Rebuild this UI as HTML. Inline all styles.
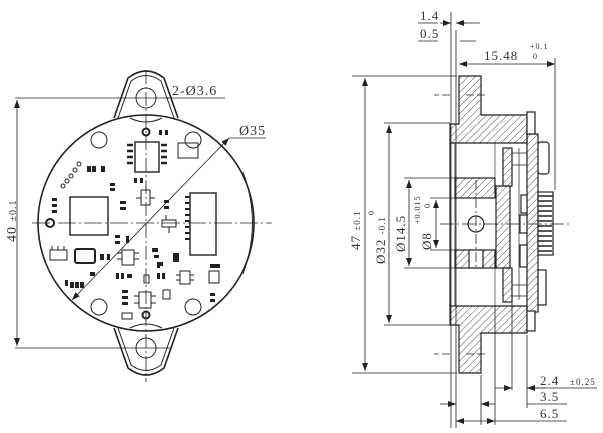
<!DOCTYPE html>
<html><head><meta charset="utf-8"><style>
html,body{margin:0;padding:0;background:#fff;width:603px;height:433px;overflow:hidden}
svg{display:block}
text{font-family:"Liberation Serif","DejaVu Serif",serif;fill:#333;letter-spacing:1px}
</style></head><body>
<svg width="603" height="433" viewBox="0 0 603 433" xmlns="http://www.w3.org/2000/svg">
<defs>
<pattern id="h" width="5" height="5" patternUnits="userSpaceOnUse" patternTransform="rotate(45)">
<line x1="0" y1="0" x2="0" y2="5" stroke="#222" stroke-width="0.8"/>
</pattern>
<marker id="a" markerWidth="8" markerHeight="6" refX="8" refY="3" orient="auto" markerUnits="userSpaceOnUse"><path d="M0,0 L8,3 L0,6 z" fill="#222"/></marker>
<marker id="b" markerWidth="8" markerHeight="6" refX="0" refY="3" orient="auto" markerUnits="userSpaceOnUse"><path d="M8,0 L0,3 L8,6 z" fill="#222"/></marker>
</defs>
<g stroke="#222" fill="none" stroke-width="1">
<path d="M114,118 L128,78 Q146,64 164,78 L178,118" stroke-width="1.6"/>
<path d="M118,118 L131,81 Q146,70 161,81 L174,118"/>
<path d="M114,328 L128,368 Q146,382 164,368 L178,328" stroke-width="1.6"/>
<path d="M118,328 L131,365 Q146,376 161,365 L174,328"/>
<circle cx="146" cy="98" r="10"/>
<circle cx="146" cy="348" r="10"/>
<circle cx="146" cy="223" r="108" stroke-width="1.6" fill="#fff"/>
<path d="M130,118 Q146,126 162,118 M130,328 Q146,320 162,328"/>
<path d="M243,172 Q262,223 243,274"/>
<circle cx="99" cy="140" r="8"/><circle cx="193" cy="140" r="8"/>
<circle cx="99" cy="307" r="8"/><circle cx="193" cy="307" r="8"/>
<circle cx="146" cy="132" r="3.5" stroke-width="2"/><circle cx="146" cy="315" r="3.5" stroke-width="2"/>
<circle cx="50" cy="223" r="4" stroke-width="2"/>
<rect x="135" y="142" width="24" height="30" stroke-width="1.4"/>
<g stroke-width="2.5"><path d="M127,145h6M127,151h6M127,157h6M127,163h6M161,145h6M161,151h6M161,157h6M161,163h6"/></g>
<rect x="70" y="197" width="38" height="38" stroke-width="1.4"/>
<rect x="178" y="143" width="20" height="15"/>
<rect x="190" y="193" width="26" height="62" stroke-width="1.4"/>
<g stroke-width="2"><path d="M185,197h5M185,203h5M185,209h5M185,215h5M185,221h5M185,227h5M185,233h5M185,239h5"/></g>
<rect x="141" y="190" width="9" height="15"/><path d="M136,198h5M150,198h5M146,186v4"/>
<rect x="162" y="220" width="14" height="7"/><path d="M169,227v6M166,215v5"/>
<rect x="122" y="250" width="12" height="15"/><path d="M117,253h5M117,259h5M134,253h5M134,259h5"/>
<rect x="139" y="292" width="12" height="16"/><path d="M134,296h5M134,303h5M151,296h5M151,303h5"/>
<rect x="50" y="250" width="17" height="10"/><path d="M52,250v-4M58,250v-4M64,250v-4"/>
<rect x="75" y="249" width="20" height="14" stroke-width="2" rx="2"/>
<rect x="180" y="271" width="10" height="13"/><path d="M176,275h4M176,280h4M190,275h4M190,280h4"/>
<rect x="209" y="271" width="10" height="12"/><rect x="163" y="290" width="7" height="9"/>
<rect x="122" y="313" width="10" height="6"/><rect x="144" y="275" width="5" height="8"/>
<circle cx="63" cy="186" r="2"/><circle cx="67" cy="181" r="2"/><circle cx="71" cy="176" r="2"/><circle cx="75" cy="170" r="2"/><circle cx="79" cy="164" r="2"/>
</g>
<g fill="#222">
<rect x="87" y="166" width="4" height="6"/><rect x="92" y="166" width="4" height="6"/><rect x="101" y="166" width="4" height="6"/>
<rect x="110" y="183" width="5" height="3"/><rect x="110" y="188" width="5" height="3"/>
<rect x="52" y="198" width="5" height="3"/><rect x="52" y="204" width="5" height="3"/><rect x="52" y="210" width="5" height="3"/>
<rect x="159" y="130" width="3" height="5"/><rect x="165" y="130" width="3" height="5"/>
<rect x="134" y="178" width="3" height="5"/><rect x="140" y="178" width="3" height="5"/>
<rect x="120" y="201" width="6" height="3"/><rect x="120" y="207" width="6" height="3"/>
<rect x="164" y="200" width="5" height="3"/><rect x="164" y="206" width="5" height="3"/>
<rect x="115" y="235" width="5" height="3"/><rect x="115" y="241" width="5" height="3"/><rect x="126" y="236" width="3" height="7"/>
<rect x="100" y="254" width="4" height="6"/><rect x="107" y="254" width="3" height="6"/>
<rect x="90" y="272" width="5" height="4"/><rect x="65" y="280" width="3" height="6"/><rect x="70" y="282" width="4" height="6"/><rect x="75" y="282" width="4" height="6"/><rect x="80" y="282" width="4" height="6"/>
<rect x="152" y="248" width="6" height="4"/><rect x="154" y="255" width="5" height="3"/><rect x="157" y="262" width="6" height="4"/>
<rect x="173" y="253" width="6" height="9"/><rect x="157" y="262" width="3" height="6"/>
<rect x="116" y="273" width="3" height="6"/><rect x="121" y="273" width="3" height="6"/><rect x="127" y="274" width="5" height="4"/>
<rect x="157" y="273" width="3" height="6"/><rect x="162" y="273" width="3" height="6"/>
<rect x="210" y="264" width="10" height="4"/><rect x="210" y="293" width="5" height="3"/><rect x="210" y="299" width="5" height="3"/>
<rect x="122" y="290" width="6" height="3"/><rect x="122" y="296" width="6" height="3"/><rect x="122" y="302" width="6" height="3"/>
</g>
<g stroke="#222" stroke-width="0.8" fill="none">
<path d="M146,70v312" stroke-dasharray="14,3,2,3"/>
<path d="M32,223h240" stroke-dasharray="18,3,2,3"/>
<path d="M15,98h155M15,348h155"/>
<path d="M17,100v246" marker-start="url(#b)" marker-end="url(#a)"/>
<path d="M165,98h60"/>
<path d="M229,138h37"/>
<path d="M229,138L72,300" marker-start="url(#b)" marker-end="url(#a)"/>
</g>
<text x="172" y="95" font-size="14">2-Ø3.6</text>
<text x="239" y="135" font-size="14">Ø35</text>
<text transform="translate(16,242) rotate(-90)" font-size="14">40 <tspan font-size="10">±0.1</tspan></text>

<g stroke="#222" stroke-width="1.2">
<path d="M459,76H481V115H527V143H450V124H459Z" fill="url(#h)"/>
<path d="M459,373H481V333H527V306H450V325H459Z" fill="url(#h)"/>
<rect x="455" y="178" width="40" height="20" fill="url(#h)"/>
<rect x="455" y="250" width="40" height="18" fill="url(#h)"/>
<rect x="469" y="250" width="14" height="18" fill="#fff"/>
<rect x="496" y="186" width="14" height="82" fill="url(#h)"/>
<rect x="503" y="148" width="9" height="38" fill="url(#h)"/>
<rect x="503" y="268" width="9" height="34" fill="url(#h)"/>
<rect x="527" y="134" width="11" height="178" fill="url(#h)"/>
<path d="M450,143V306" fill="none"/>
<path d="M455,143V306" fill="none" stroke-width="0.8"/>
<path d="M495,143V178M495,268V306" fill="none" stroke-width="0.6"/>
<path d="M512,153h15M512,165h15M512,285h15M512,296h15M519,148V300" fill="none" stroke-width="0.7"/>
<rect x="521" y="195" width="6" height="18" fill="#fff"/>
<rect x="520" y="215" width="7" height="18" fill="#fff"/>
<rect x="520" y="245" width="7" height="22" fill="#fff"/>
<rect x="538" y="142" width="11" height="32" fill="#fff" rx="3"/>
<rect x="538" y="192" width="15" height="63" fill="#fff"/>
<path d="M538,196h15M538,201h14M538,206h14M538,211h14M538,216h14M538,221h14M538,226h14M538,231h14M538,236h14M538,241h14M538,246h14M538,251h14" stroke-width="1.4"/>
<rect x="538" y="270" width="8" height="35" fill="#fff"/>
<rect x="527" y="112" width="8" height="22" fill="#fff"/>
<rect x="527" y="311" width="8" height="20" fill="#fff"/>
</g>
<circle cx="476" cy="224" r="8" stroke="#222" fill="none" stroke-width="1.2"/>
<g stroke="#222" stroke-width="0.8" fill="none">
<path d="M451,12V428M456,30V428"/>
<path d="M450,95h-16M485,95h-20M450,354h-16M485,354h-20" stroke-dasharray="8,3"/>
<path d="M440,224h130" stroke-dasharray="14,3,2,3"/>
<path d="M476,180v90" stroke-dasharray="10,3,2,3"/>
<path d="M555,58V190"/>
<path d="M459,64h96" marker-start="url(#b)" marker-end="url(#a)"/>
<path d="M418,23h20M464,23h16"/><path d="M440,23h11" marker-end="url(#a)"/><path d="M466,23h-10" marker-end="url(#a)"/>
<path d="M418,41h20M460,41h16"/>
<path d="M352,76h105M352,373h105"/>
<path d="M365,78v293" marker-start="url(#b)" marker-end="url(#a)"/>
<path d="M384,123h66M384,325h66"/>
<path d="M389,125v198" marker-start="url(#b)" marker-end="url(#a)"/>
<path d="M404,178h51M404,268h51"/>
<path d="M409,180v86" marker-start="url(#b)" marker-end="url(#a)"/>
<path d="M430,198h25M430,250h25"/>
<path d="M436,200v48" marker-start="url(#b)" marker-end="url(#a)"/>
<path d="M512,300V390M527,335V408M481,375V425M495,305V425"/>
<path d="M495,388h17" marker-end="url(#a)"/><path d="M545,388h-18" marker-end="url(#a)"/><path d="M527,388h70"/>
<path d="M440,404h16" marker-end="url(#a)"/><path d="M495,404h-14" marker-end="url(#a)"/><path d="M527,404h40"/>
<path d="M456,421h39" marker-start="url(#b)" marker-end="url(#a)"/><path d="M495,421h72"/>
</g>
<text x="420" y="20" font-size="13">1.4</text>
<text x="420" y="38" font-size="13">0.5</text>
<text x="484" y="60" font-size="13">15.48</text>
<text x="530" y="49" font-size="8">+0.1</text>
<text x="533" y="59" font-size="8">0</text>
<text x="540" y="385" font-size="13">2.4</text>
<text x="570" y="385" font-size="9">±0.25</text>
<text x="540" y="401" font-size="13">3.5</text>
<text x="540" y="418" font-size="13">6.5</text>
<text transform="translate(360,250) rotate(-90)" font-size="13">47 <tspan font-size="9">±0.1</tspan></text>
<text transform="translate(385,264) rotate(-90)" font-size="13">Ø32 <tspan font-size="9">-0.1</tspan></text>
<text transform="translate(374,215) rotate(-90)" font-size="8">0</text>
<text transform="translate(405,252) rotate(-90)" font-size="13">Ø14.5</text>
<text transform="translate(431,250) rotate(-90)" font-size="13">Ø8</text>
<text transform="translate(420,224) rotate(-90)" font-size="8">+0.015</text>
<text transform="translate(430,208) rotate(-90)" font-size="8">0</text>
</svg>
</body></html>
